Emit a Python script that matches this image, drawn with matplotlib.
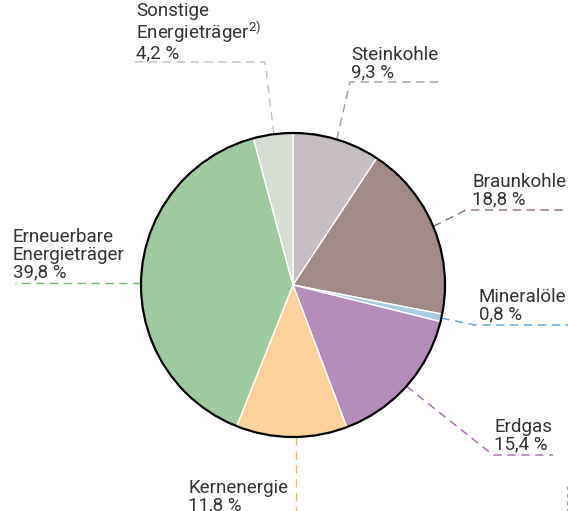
import numpy as np
import matplotlib.pyplot as plt
from matplotlib.patches import Circle

plt.rcParams['font.family'] = ['Roboto', 'DejaVu Sans']
plt.rcParams['mathtext.fontset'] = 'custom'
plt.rcParams['mathtext.rm'] = 'Roboto'
plt.rcParams['mathtext.default'] = 'rm'

# Anteile (%), im Uhrzeigersinn ab 12 Uhr
labels = ['Steinkohle', 'Braunkohle', 'Mineralöle', 'Erdgas', 'Kernenergie',
          'Erneuerbare\nEnergieträger', 'Sonstige\nEnergieträger$^{2)}$']
values = [9.3, 18.8, 0.8, 15.4, 11.8, 39.8, 4.2]
colors = ['#c5bdc1', '#a18a88', '#a6cfe4', '#b58dbb', '#fdd39b', '#9fca9f', '#d6ddd3']
line_colors = ['#a49aa0', '#8a6f6d', '#5aa7d2', '#a66aae', '#fbb55a', '#6dbd6d', '#b8c8b4']

W, H = 568, 511
fig = plt.figure(figsize=(W / 100, H / 100), dpi=100)
ax = fig.add_axes([0, 0, 1, 1])

cx, cy, r = 293, H - 285, 152
ax.pie(values, colors=colors, startangle=90, counterclock=False, center=(cx, cy),
       radius=r, wedgeprops=dict(edgecolor='white', linewidth=1), frame=True)
ax.set_xlim(0, W)
ax.set_ylim(0, H)
ax.set_aspect('equal')
ax.axis('off')
ax.add_patch(Circle((cx, cy), r, fill=False, edgecolor='black', linewidth=1.6, zorder=5))

# Beschriftung: Knickpunkt, Linienende, Textposition (Pixel, y von oben)
layout = [
    dict(elbow=(350, 82), end=(440, 82), text=(351, 81), ha='left'),
    dict(elbow=(466, 210), end=(568, 210), text=(472, 208), ha='left'),
    dict(elbow=(475, 325), end=(568, 325), text=(479, 323), ha='left'),
    dict(elbow=(493, 455), end=(553, 455), text=(494, 453), ha='left'),
    dict(elbow=(296, 470), end=(296, 515), text=(188, 514), ha='left'),
    dict(elbow=(141, 283), end=(15, 283), text=(13, 281), ha='left'),
    dict(elbow=(265, 62), end=(135, 62), text=(136, 62), ha='left'),
]

cum = np.cumsum([0] + values[:-1])
for i, (lab, v) in enumerate(zip(labels, values)):
    ang = np.deg2rad(90 - (cum[i] + v / 2) * 3.6)
    sx, sy = cx + r * np.cos(ang), cy + r * np.sin(ang)
    L = layout[i]
    if i == 4:
        sx, sy = 296, cy - r
    if i == 5:
        sx, sy = cx - np.sqrt(r**2 - (H - 283 - cy)**2), H - 283
    xs = [sx, L['elbow'][0], L['end'][0]]
    ys = [sy, H - L['elbow'][1], H - L['end'][1]]
    ax.plot(xs, ys, color=line_colors[i], lw=1.0, dashes=(6, 4), zorder=1)
    txt = lab + '\n' + f'{v:.1f}'.replace('.', ',') + ' %'
    ax.text(L['text'][0], H - L['text'][1], txt, ha=L['ha'], va='bottom',
            fontsize=13.5, color='#333333', linespacing=0.95)

# abgeschnittene Linie am rechten Rand
ax.plot([567, 567], [H - 486, H - 511], color='#aaaaaa', lw=0.9, dashes=(3, 3))

fig.savefig('out.png', dpi=100)
